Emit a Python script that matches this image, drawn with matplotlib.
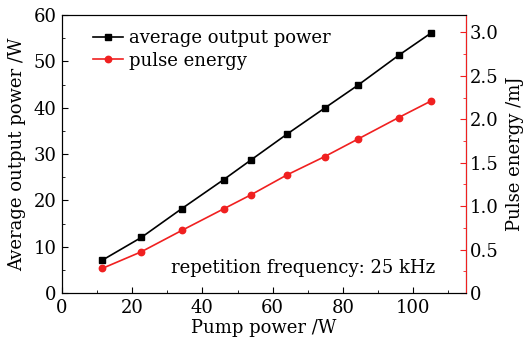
import numpy as np
import matplotlib
matplotlib.use("Agg")
import matplotlib.pyplot as plt
from matplotlib.ticker import MultipleLocator

plt.rcParams['font.family'] = ['DejaVu Serif']
plt.rcParams['mathtext.fontset'] = 'dejavuserif'

# data
pump_power = [11.5, 22.6, 34.1, 46.1, 53.8, 64.1, 74.8, 84.2, 95.9, 105.1]
output_power = [7.1, 12.0, 18.2, 24.5, 28.7, 34.3, 39.9, 44.8, 51.3, 56.1]
pulse_energy = [0.284, 0.475, 0.72, 0.97, 1.13, 1.36, 1.57, 1.77, 2.02, 2.21]

RED = '#f02020'
FS = 13

fig = plt.figure(figsize=(5.23, 3.38), dpi=100)
ax = fig.add_axes([0.1185, 0.133, 0.772, 0.8226])
ax2 = ax.twinx()

l1, = ax.plot(pump_power, output_power, color='black', lw=1.2, marker='s', ms=5,
              label='average output power')
l2, = ax2.plot(pump_power, pulse_energy, color=RED, lw=1.2, marker='o', ms=4.6,
               label='pulse energy')

ax.set_xlim(0, 115)
ax.set_ylim(0, 60)
ax2.set_ylim(0, 3.2)

ax.xaxis.set_major_locator(MultipleLocator(20))
ax.xaxis.set_minor_locator(MultipleLocator(10))
ax.yaxis.set_major_locator(MultipleLocator(10))
ax.yaxis.set_minor_locator(MultipleLocator(5))
ax2.yaxis.set_minor_locator(MultipleLocator(0.25))
ax2.set_yticks([0, 0.5, 1.0, 1.5, 2.0, 2.5, 3.0])
ax2.set_yticklabels(['0', '0.5', '1.0', '1.5', '2.0', '2.5', '3.0'])

ax.tick_params(which='both', direction='in', top=False, right=False, labelsize=FS)
ax.tick_params(axis='y', pad=4)
ax.tick_params(axis='x', pad=4)
ax.tick_params(which='major', length=4)
ax.tick_params(which='minor', length=2.5)
ax2.tick_params(which='both', direction='in', colors=RED, labelcolor='black',
                labelsize=FS, pad=3)
ax2.tick_params(which='major', length=4)
ax2.tick_params(which='minor', length=2.5)
ax2.spines['right'].set_color(RED)

ax.set_xlabel('Pump power /W', fontsize=FS, labelpad=2)
ax.set_ylabel('Average output power /W', fontsize=FS, labelpad=5)
ax2.set_ylabel('Pulse energy /mJ', fontsize=FS, labelpad=5)

ax.legend([l1, l2], ['average output power', 'pulse energy'], loc='upper left',
          bbox_to_anchor=(0.06, 0.975), frameon=False, fontsize=FS,
          handlelength=1.65, handletextpad=0.3, borderaxespad=0,
          labelspacing=0.25)

ax.text(0.923, 0.09, 'repetition frequency: 25 kHz', transform=ax.transAxes,
        ha='right', va='center', fontsize=FS)

fig.savefig('out.png', dpi=100)
